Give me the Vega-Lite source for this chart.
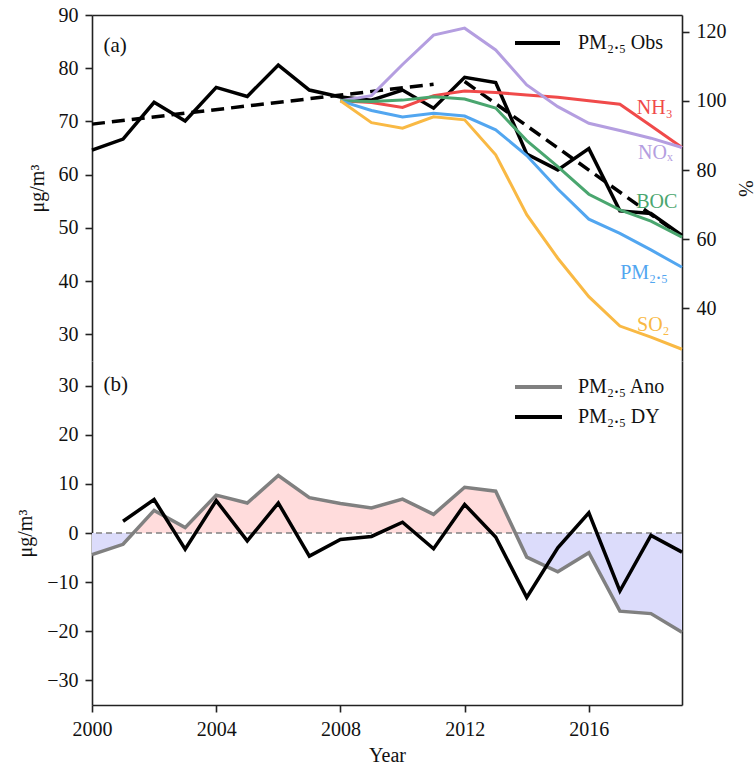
{
  "$schema": "https://vega.github.io/schema/vega-lite/v6.json",
  "padding": {"left": 15, "top": 5, "right": 5, "bottom": 5},
  "config": {
    "font": "Liberation Serif, DejaVu Serif",
    "view": {"stroke": null},
    "axis": {
      "labelFont": "Liberation Serif, DejaVu Serif", "labelFontSize": 20, "labelColor": "#111",
      "titleFont": "Liberation Serif, DejaVu Serif", "titleFontSize": 20, "titleFontWeight": "normal", "titleColor": "#111",
      "domainColor": "#222", "domainWidth": 1.6, "tickColor": "#222", "tickWidth": 1.6, "tickSize": 7,
      "labelPadding": 7, "grid": false, "labelFlush": false
    },
    "text": {"font": "Liberation Serif, DejaVu Serif", "fontSize": 20}
  },
  "datasets": {
    "obs": [
      {"year": 2000, "value": 64.6}, {"year": 2001, "value": 66.7}, {"year": 2002, "value": 73.6},
      {"year": 2003, "value": 70.1}, {"year": 2004, "value": 76.4}, {"year": 2005, "value": 74.7},
      {"year": 2006, "value": 80.6}, {"year": 2007, "value": 75.9}, {"year": 2008, "value": 74.6},
      {"year": 2009, "value": 74.0}, {"year": 2010, "value": 75.9}, {"year": 2011, "value": 72.5},
      {"year": 2012, "value": 78.3}, {"year": 2013, "value": 77.3}, {"year": 2014, "value": 63.9},
      {"year": 2015, "value": 60.9}, {"year": 2016, "value": 64.9}, {"year": 2017, "value": 53.2},
      {"year": 2018, "value": 52.7}, {"year": 2019, "value": 48.6}
    ],
    "trend": [
      {"seg": "early", "year": 2000, "value": 69.5}, {"seg": "early", "year": 2011, "value": 77.0},
      {"seg": "late", "year": 2012, "value": 77.5}, {"seg": "late", "year": 2019, "value": 48.4}
    ],
    "emis": [
      {"species": "NH₃", "year": 2008, "pct": 100}, {"species": "NH₃", "year": 2009, "pct": 99.5},
      {"species": "NH₃", "year": 2010, "pct": 98.1}, {"species": "NH₃", "year": 2011, "pct": 101.5},
      {"species": "NH₃", "year": 2012, "pct": 102.8}, {"species": "NH₃", "year": 2013, "pct": 102.4},
      {"species": "NH₃", "year": 2014, "pct": 101.7}, {"species": "NH₃", "year": 2015, "pct": 101.0},
      {"species": "NH₃", "year": 2016, "pct": 100.0}, {"species": "NH₃", "year": 2017, "pct": 99.0},
      {"species": "NH₃", "year": 2018, "pct": 92.8}, {"species": "NH₃", "year": 2019, "pct": 86.5},
      {"species": "NOₓ", "year": 2008, "pct": 100}, {"species": "NOₓ", "year": 2009, "pct": 101.5},
      {"species": "NOₓ", "year": 2010, "pct": 110.5}, {"species": "NOₓ", "year": 2011, "pct": 119.0},
      {"species": "NOₓ", "year": 2012, "pct": 121.0}, {"species": "NOₓ", "year": 2013, "pct": 114.7},
      {"species": "NOₓ", "year": 2014, "pct": 104.6}, {"species": "NOₓ", "year": 2015, "pct": 98.3},
      {"species": "NOₓ", "year": 2016, "pct": 93.5}, {"species": "NOₓ", "year": 2017, "pct": 91.4},
      {"species": "NOₓ", "year": 2018, "pct": 89.2}, {"species": "NOₓ", "year": 2019, "pct": 86.5},
      {"species": "BOC", "year": 2008, "pct": 100}, {"species": "BOC", "year": 2009, "pct": 99.8},
      {"species": "BOC", "year": 2010, "pct": 100.2}, {"species": "BOC", "year": 2011, "pct": 101.2},
      {"species": "BOC", "year": 2012, "pct": 100.5}, {"species": "BOC", "year": 2013, "pct": 97.9},
      {"species": "BOC", "year": 2014, "pct": 88.5}, {"species": "BOC", "year": 2015, "pct": 81.0},
      {"species": "BOC", "year": 2016, "pct": 73.0}, {"species": "BOC", "year": 2017, "pct": 68.5},
      {"species": "BOC", "year": 2018, "pct": 65.2}, {"species": "BOC", "year": 2019, "pct": 60.6},
      {"species": "PM₂.₅", "year": 2008, "pct": 100}, {"species": "PM₂.₅", "year": 2009, "pct": 97.2},
      {"species": "PM₂.₅", "year": 2010, "pct": 95.3}, {"species": "PM₂.₅", "year": 2011, "pct": 96.4},
      {"species": "PM₂.₅", "year": 2012, "pct": 95.6}, {"species": "PM₂.₅", "year": 2013, "pct": 91.6},
      {"species": "PM₂.₅", "year": 2014, "pct": 84.2}, {"species": "PM₂.₅", "year": 2015, "pct": 74.5},
      {"species": "PM₂.₅", "year": 2016, "pct": 65.8}, {"species": "PM₂.₅", "year": 2017, "pct": 61.7},
      {"species": "PM₂.₅", "year": 2018, "pct": 56.9}, {"species": "PM₂.₅", "year": 2019, "pct": 51.9},
      {"species": "SO₂", "year": 2008, "pct": 100}, {"species": "SO₂", "year": 2009, "pct": 93.7},
      {"species": "SO₂", "year": 2010, "pct": 92.1}, {"species": "SO₂", "year": 2011, "pct": 95.4},
      {"species": "SO₂", "year": 2012, "pct": 94.5}, {"species": "SO₂", "year": 2013, "pct": 84.4},
      {"species": "SO₂", "year": 2014, "pct": 67.1}, {"species": "SO₂", "year": 2015, "pct": 54.5},
      {"species": "SO₂", "year": 2016, "pct": 43.4}, {"species": "SO₂", "year": 2017, "pct": 34.9},
      {"species": "SO₂", "year": 2018, "pct": 31.7}, {"species": "SO₂", "year": 2019, "pct": 28.2}
    ],
    "emisLabels": [
      {"species": "NH₃", "year": 2018.7, "pct": 98.0},
      {"species": "NOₓ", "year": 2018.7, "pct": 84.9},
      {"species": "BOC", "year": 2018.85, "pct": 70.7},
      {"species": "PM₂.₅", "year": 2018.55, "pct": 50.2},
      {"species": "SO₂", "year": 2018.6, "pct": 35.2}
    ],
    "bottom": [
      {"series": "PM₂.₅ Ano", "year": 2000, "value": -4.4}, {"series": "PM₂.₅ Ano", "year": 2001, "value": -2.3},
      {"series": "PM₂.₅ Ano", "year": 2002, "value": 4.6}, {"series": "PM₂.₅ Ano", "year": 2003, "value": 1.1},
      {"series": "PM₂.₅ Ano", "year": 2004, "value": 7.7}, {"series": "PM₂.₅ Ano", "year": 2005, "value": 6.1},
      {"series": "PM₂.₅ Ano", "year": 2006, "value": 11.7}, {"series": "PM₂.₅ Ano", "year": 2007, "value": 7.2},
      {"series": "PM₂.₅ Ano", "year": 2008, "value": 6.0}, {"series": "PM₂.₅ Ano", "year": 2009, "value": 5.1},
      {"series": "PM₂.₅ Ano", "year": 2010, "value": 6.9}, {"series": "PM₂.₅ Ano", "year": 2011, "value": 3.8},
      {"series": "PM₂.₅ Ano", "year": 2012, "value": 9.3}, {"series": "PM₂.₅ Ano", "year": 2013, "value": 8.5},
      {"series": "PM₂.₅ Ano", "year": 2014, "value": -4.9}, {"series": "PM₂.₅ Ano", "year": 2015, "value": -7.9},
      {"series": "PM₂.₅ Ano", "year": 2016, "value": -4.0}, {"series": "PM₂.₅ Ano", "year": 2017, "value": -15.9},
      {"series": "PM₂.₅ Ano", "year": 2018, "value": -16.4}, {"series": "PM₂.₅ Ano", "year": 2019, "value": -20.2},
      {"series": "PM₂.₅ DY", "year": 2001, "value": 2.4}, {"series": "PM₂.₅ DY", "year": 2002, "value": 6.8},
      {"series": "PM₂.₅ DY", "year": 2003, "value": -3.3}, {"series": "PM₂.₅ DY", "year": 2004, "value": 6.6},
      {"series": "PM₂.₅ DY", "year": 2005, "value": -1.6}, {"series": "PM₂.₅ DY", "year": 2006, "value": 6.1},
      {"series": "PM₂.₅ DY", "year": 2007, "value": -4.7}, {"series": "PM₂.₅ DY", "year": 2008, "value": -1.3},
      {"series": "PM₂.₅ DY", "year": 2009, "value": -0.7}, {"series": "PM₂.₅ DY", "year": 2010, "value": 2.2},
      {"series": "PM₂.₅ DY", "year": 2011, "value": -3.2}, {"series": "PM₂.₅ DY", "year": 2012, "value": 5.8},
      {"series": "PM₂.₅ DY", "year": 2013, "value": -0.8}, {"series": "PM₂.₅ DY", "year": 2014, "value": -13.1},
      {"series": "PM₂.₅ DY", "year": 2015, "value": -3.0}, {"series": "PM₂.₅ DY", "year": 2016, "value": 4.1},
      {"series": "PM₂.₅ DY", "year": 2017, "value": -11.8}, {"series": "PM₂.₅ DY", "year": 2018, "value": -0.5},
      {"series": "PM₂.₅ DY", "year": 2019, "value": -3.9}
    ],
    "fill": [
      {"seg": "n1", "sign": "neg", "year": 2000, "value": -4.4},
      {"seg": "n1", "sign": "neg", "year": 2001, "value": -2.3},
      {"seg": "n1", "sign": "neg", "year": 2001.33, "value": 0},
      {"seg": "p1", "sign": "pos", "year": 2001.33, "value": 0},
      {"seg": "p1", "sign": "pos", "year": 2002, "value": 4.6},
      {"seg": "p1", "sign": "pos", "year": 2003, "value": 1.1},
      {"seg": "p1", "sign": "pos", "year": 2004, "value": 7.7},
      {"seg": "p1", "sign": "pos", "year": 2005, "value": 6.1},
      {"seg": "p1", "sign": "pos", "year": 2006, "value": 11.7},
      {"seg": "p1", "sign": "pos", "year": 2007, "value": 7.2},
      {"seg": "p1", "sign": "pos", "year": 2008, "value": 6.0},
      {"seg": "p1", "sign": "pos", "year": 2009, "value": 5.1},
      {"seg": "p1", "sign": "pos", "year": 2010, "value": 6.9},
      {"seg": "p1", "sign": "pos", "year": 2011, "value": 3.8},
      {"seg": "p1", "sign": "pos", "year": 2012, "value": 9.3},
      {"seg": "p1", "sign": "pos", "year": 2013, "value": 8.5},
      {"seg": "p1", "sign": "pos", "year": 2013.63, "value": 0},
      {"seg": "n2", "sign": "neg", "year": 2013.63, "value": 0},
      {"seg": "n2", "sign": "neg", "year": 2014, "value": -4.9},
      {"seg": "n2", "sign": "neg", "year": 2015, "value": -7.9},
      {"seg": "n2", "sign": "neg", "year": 2016, "value": -4.0},
      {"seg": "n2", "sign": "neg", "year": 2017, "value": -15.9},
      {"seg": "n2", "sign": "neg", "year": 2018, "value": -16.4},
      {"seg": "n2", "sign": "neg", "year": 2019, "value": -20.2}
    ]
  },
  "spacing": 0,
  "bounds": "flush",
  "resolve": {
    "scale": {"x": "independent", "y": "independent", "color": "independent", "fill": "independent", "stroke": "independent"},
    "legend": {"color": "independent"}
  },
  "vconcat": [
    {
      "width": 590,
      "height": 346,
      "resolve": {"scale": {"y": "independent"}},
      "layer": [
        {
          "layer": [
            {
              "data": {"name": "obs"},
              "mark": {"type": "line", "strokeWidth": 3.5},
              "encoding": {
                "x": {"field": "year", "type": "quantitative", "scale": {"domain": [2000, 2019], "nice": false, "zero": false}, "axis": {"orient": "top", "labels": false, "ticks": false, "title": null, "domain": true}},
                "y": {"field": "value", "type": "quantitative", "scale": {"domain": [25, 90], "nice": false, "zero": false}, "axis": {"values": [30, 40, 50, 60, 70, 80, 90], "title": "μg/m³", "titlePadding": 11}},
                "color": {"datum": "PM₂.₅ Obs", "type": "nominal", "scale": {"range": ["#000000"]},
                  "legend": {"orient": "top-right", "title": null, "symbolType": "stroke", "symbolStrokeWidth": 4, "symbolSize": 2025, "clipHeight": 20, "labelOffset": 16, "offset": 18, "padding": 0, "labelFontSize": 20, "labelFont": "Liberation Serif, DejaVu Serif", "labelColor": "#111"}}
              }
            },
            {
              "data": {"name": "trend"},
              "mark": {"type": "line", "strokeWidth": 3.5, "strokeDash": [13, 7], "color": "#000000"},
              "encoding": {
                "x": {"field": "year", "type": "quantitative", "scale": {"domain": [2000, 2019], "nice": false, "zero": false}, "axis": {"orient": "top", "labels": false, "ticks": false, "title": null, "domain": true}},
                "y": {"field": "value", "type": "quantitative", "scale": {"domain": [25, 90], "nice": false, "zero": false}, "axis": {"values": [30, 40, 50, 60, 70, 80, 90], "title": "μg/m³", "titlePadding": 11}},
                "detail": {"field": "seg"}
              }
            },
            {
              "data": {"values": [{"label": "(a)", "year": 2000.37, "value": 84.2}]},
              "mark": {"type": "text", "align": "left", "baseline": "middle", "fontSize": 21, "color": "#111"},
              "encoding": {
                "x": {"field": "year", "type": "quantitative", "scale": {"domain": [2000, 2019], "nice": false, "zero": false}, "axis": {"orient": "top", "labels": false, "ticks": false, "title": null, "domain": true}},
                "y": {"field": "value", "type": "quantitative", "scale": {"domain": [25, 90], "nice": false, "zero": false}, "axis": {"values": [30, 40, 50, 60, 70, 80, 90], "title": "μg/m³", "titlePadding": 11}},
                "text": {"field": "label"}
              }
            }
          ]
        },
        {
          "layer": [
            {
              "data": {"name": "emis"},
              "mark": {"type": "line", "strokeWidth": 3},
              "encoding": {
                "x": {"field": "year", "type": "quantitative", "scale": {"domain": [2000, 2019], "nice": false, "zero": false}, "axis": {"orient": "top", "labels": false, "ticks": false, "title": null, "domain": true}},
                "y": {"field": "pct", "type": "quantitative", "scale": {"domain": [24.8, 124.8], "nice": false, "zero": false}, "axis": {"orient": "right", "values": [40, 60, 80, 100, 120], "title": "%", "titlePadding": 8}},
                "stroke": {"field": "species", "type": "nominal", "scale": {"domain": ["SO₂", "PM₂.₅", "BOC", "NOₓ", "NH₃"], "range": ["#f9b944", "#52a6f0", "#4aa66f", "#b49ee0", "#f04a4a"]}, "legend": null}
              }
            },
            {
              "data": {"name": "emisLabels"},
              "mark": {"type": "text", "align": "right", "baseline": "middle", "fontSize": 20},
              "encoding": {
                "x": {"field": "year", "type": "quantitative", "scale": {"domain": [2000, 2019], "nice": false, "zero": false}, "axis": {"orient": "top", "labels": false, "ticks": false, "title": null, "domain": true}},
                "y": {"field": "pct", "type": "quantitative", "scale": {"domain": [24.8, 124.8], "nice": false, "zero": false}, "axis": {"orient": "right", "values": [40, 60, 80, 100, 120], "title": "%", "titlePadding": 8}},
                "text": {"field": "species"},
                "fill": {"field": "species", "type": "nominal", "scale": {"domain": ["SO₂", "PM₂.₅", "BOC", "NOₓ", "NH₃"], "range": ["#f9b944", "#52a6f0", "#4aa66f", "#b49ee0", "#f04a4a"]}, "legend": null}
              }
            }
          ]
        }
      ]
    },
    {
      "width": 590,
      "height": 344,
      "resolve": {"axis": {"y": "independent"}},
      "layer": [
        {
          "layer": [
            {
              "data": {"name": "fill"},
              "mark": {"type": "area"},
              "encoding": {
                "x": {"field": "year", "type": "quantitative", "scale": {"domain": [2000, 2019], "nice": false, "zero": false}, "axis": {"values": [2000, 2004, 2008, 2012, 2016], "format": "d", "title": "Year", "titlePadding": 6}},
                "y": {"field": "value", "type": "quantitative", "scale": {"domain": [-35, 35], "nice": false, "zero": false}, "axis": {"values": [-30, -20, -10, 0, 10, 20, 30], "title": "μg/m³", "titlePadding": 11}},
                "y2": {"datum": 0},
                "fill": {"field": "sign", "type": "nominal", "scale": {"domain": ["pos", "neg"], "range": ["#ffdcdc", "#dcdcfb"]}, "legend": null},
                "detail": {"field": "seg"}
              }
            },
            {
              "data": {"values": [{"value": 0}]},
              "mark": {"type": "rule", "color": "#808080", "strokeWidth": 1.5, "strokeDash": [6, 4]},
              "encoding": {
                "y": {"field": "value", "type": "quantitative", "scale": {"domain": [-35, 35], "nice": false, "zero": false}, "axis": {"values": [-30, -20, -10, 0, 10, 20, 30], "title": "μg/m³", "titlePadding": 11}}
              }
            },
            {
              "data": {"name": "bottom"},
              "mark": {"type": "line", "strokeWidth": 3.5},
              "encoding": {
                "x": {"field": "year", "type": "quantitative", "scale": {"domain": [2000, 2019], "nice": false, "zero": false}, "axis": {"values": [2000, 2004, 2008, 2012, 2016], "format": "d", "title": "Year", "titlePadding": 6}},
                "y": {"field": "value", "type": "quantitative", "scale": {"domain": [-35, 35], "nice": false, "zero": false}, "axis": {"values": [-30, -20, -10, 0, 10, 20, 30], "title": "μg/m³", "titlePadding": 11}},
                "color": {"field": "series", "type": "nominal", "scale": {"domain": ["PM₂.₅ Ano", "PM₂.₅ DY"], "range": ["#808080", "#000000"]},
                  "legend": {"orient": "top-right", "title": null, "symbolType": "stroke", "symbolStrokeWidth": 4, "symbolSize": 2209, "clipHeight": 20, "labelOffset": 14, "offset": 16, "padding": 0, "rowPadding": 10, "labelFontSize": 20, "labelFont": "Liberation Serif, DejaVu Serif", "labelColor": "#111"}}
              }
            },
            {
              "data": {"values": [{"label": "(b)", "year": 2000.37, "value": 30.2}]},
              "mark": {"type": "text", "align": "left", "baseline": "middle", "fontSize": 21, "color": "#111"},
              "encoding": {
                "x": {"field": "year", "type": "quantitative", "scale": {"domain": [2000, 2019], "nice": false, "zero": false}, "axis": {"values": [2000, 2004, 2008, 2012, 2016], "format": "d", "title": "Year", "titlePadding": 6}},
                "y": {"field": "value", "type": "quantitative", "scale": {"domain": [-35, 35], "nice": false, "zero": false}, "axis": {"values": [-30, -20, -10, 0, 10, 20, 30], "title": "μg/m³", "titlePadding": 11}},
                "text": {"field": "label"}
              }
            }
          ]
        },
        {
          "data": {"values": [{"value": 0}]},
          "mark": {"type": "rule", "opacity": 0},
          "encoding": {
            "y": {"field": "value", "type": "quantitative", "scale": {"domain": [-35, 35], "nice": false, "zero": false}, "axis": {"orient": "right", "labels": false, "ticks": false, "title": null, "domain": true}}
          }
        }
      ]
    }
  ]
}
